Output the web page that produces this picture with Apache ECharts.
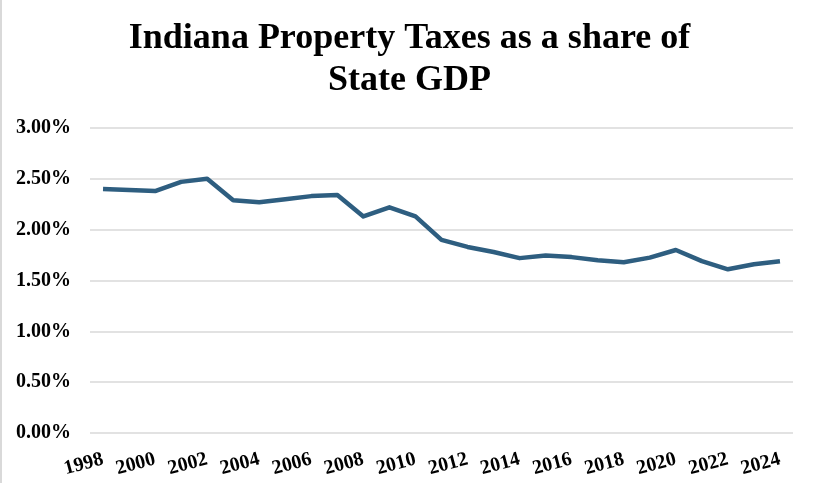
<!DOCTYPE html>
<html>
<head>
<meta charset="utf-8">
<script src="https://cdn.jsdelivr.net/npm/echarts@6/dist/echarts.min.js"></script>
<style>
html,body{margin:0;padding:0;background:#fff;}
#chart{width:819px;height:483px;}
</style>
</head>
<body>
<div id="chart"></div>
<script>
var years = ['1998','1999','2000','2001','2002','2003','2004','2005','2006','2007','2008','2009','2010','2011','2012','2013','2014','2015','2016','2017','2018','2019','2020','2021','2022','2023','2024'];
var taxShare = [2.40,2.39,2.38,2.47,2.50,2.29,2.27,2.30,2.33,2.34,2.13,2.22,2.13,1.90,1.83,1.78,1.72,1.745,1.73,1.70,1.68,1.725,1.80,1.69,1.61,1.66,1.69];
var titleText = 'Indiana Property Taxes as a share of\nState GDP';

var chart = echarts.init(document.getElementById('chart'));
chart.setOption({
  backgroundColor: '#ffffff',
  animation: false,
  title: {
    text: titleText,
    left: 'center',
    top: 13,
    textStyle: {
      fontFamily: 'Liberation Serif',
      fontWeight: 'bold',
      fontSize: 36,
      lineHeight: 42,
      color: '#000'
    }
  },
  grid: {left: 90, right: 26, top: 128, bottom: 50, containLabel: false},
  xAxis: {
    type: 'category',
    data: years,
    boundaryGap: true,
    axisLine: {show: false},
    axisTick: {show: false},
    axisLabel: {
      interval: 1,
      rotate: 15,
      margin: 26,
      fontFamily: 'Liberation Serif',
      fontWeight: 'bold',
      fontSize: 20,
      color: '#000'
    }
  },
  yAxis: {
    type: 'value',
    min: 0,
    max: 3,
    interval: 0.5,
    axisLine: {show: false},
    axisTick: {show: false},
    splitLine: {lineStyle: {color: '#d9d9d9', width: 1.5}},
    axisLabel: {
      margin: 19,
      formatter: function (v) { return v.toFixed(2) + '%'; },
      fontFamily: 'Liberation Serif',
      fontWeight: 'bold',
      fontSize: 20,
      color: '#000'
    }
  },
  series: [{
    type: 'line',
    data: taxShare,
    showSymbol: false,
    symbol: 'none',
    lineStyle: {color: '#2E5E80', width: 4.5, join: 'round'},
    itemStyle: {color: '#2E5E80'}
  }],
  graphic: [{
    type: 'line',
    shape: {x1: 1, y1: 0, x2: 1, y2: 483},
    style: {stroke: '#d9d9d9', lineWidth: 2}
  }]
});
</script>
</body>
</html>
